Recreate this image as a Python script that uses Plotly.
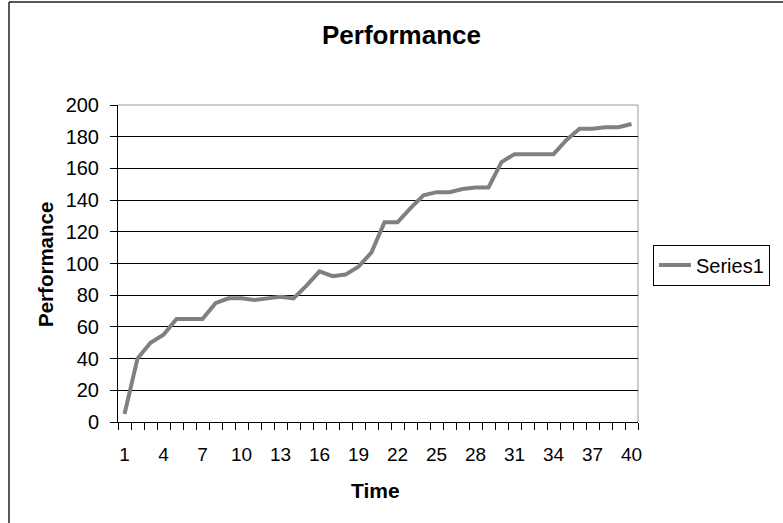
import plotly.graph_objects as go

time_points = list(range(1, 41))
performance = [5, 40, 50, 55, 65, 65, 65, 75, 78, 78,
               77, 78, 79, 78, 86, 95, 92, 93, 98, 107,
               126, 126, 135, 143, 145, 145, 147, 148, 148, 164,
               169, 169, 169, 169, 178, 185, 185, 186, 186, 188]
x_tick_labels = [1, 4, 7, 10, 13, 16, 19, 22, 25, 28, 31, 34, 37, 40]
y_ticks = list(range(0, 201, 20))

W, H = 783, 523
L, R, T, B = 118, 638, 105, 422
pw, ph = R - L, B - T

def px(x):
    return (x - L) / pw

def py(y):
    return (B - y) / ph

FONT = "Liberation Sans, Arial, sans-serif"

fig = go.Figure()
fig.add_trace(go.Scatter(
    x=time_points, y=performance, mode="lines", name="Series1",
    line=dict(color="#808080", width=4),
))

boundaries = [t - 0.5 for t in time_points] + [time_points[-1] + 0.5]

fig.update_layout(
    width=W, height=H,
    margin=dict(l=L, r=W - R, t=T, b=H - B, pad=0, autoexpand=False),
    paper_bgcolor="white", plot_bgcolor="white",
    font=dict(family=FONT, size=19, color="black"),
    showlegend=True,
    legend=dict(x=px(653), xanchor="left", y=py(265), yanchor="middle",
                bordercolor="black", borderwidth=1, bgcolor="white",
                font=dict(size=20, family=FONT),
                itemwidth=32, tracegroupgap=0),
    xaxis=dict(range=[0.5, 40.5], tickmode="array", tickvals=x_tick_labels,
               ticktext=[str(v) for v in x_tick_labels],
               ticks="", showgrid=False, zeroline=False,
               showline=True, linecolor="black", linewidth=1,
               ticklabelstandoff=15, tickfont=dict(size=19),
               minor=dict(tickmode="array", tickvals=boundaries, ticks="outside",
                          ticklen=7, tickcolor="black", tickwidth=1, showgrid=False)),
    yaxis=dict(range=[0, 200], tickmode="array", tickvals=y_ticks,
               ticks="outside", ticklen=7, tickcolor="black", tickwidth=1,
               showgrid=True, gridcolor="black", gridwidth=1, zeroline=False,
               showline=True, linecolor="black", linewidth=1,
               ticklabelstandoff=7, tickfont=dict(size=20)),
    annotations=[
        dict(text="<b>Performance</b>", x=px(401), y=py(35), xref="paper", yref="paper",
             showarrow=False, font=dict(size=26, family=FONT), xanchor="center", yanchor="middle"),
        dict(text="<b>Time</b>", x=px(375), y=py(490), xref="paper", yref="paper",
             showarrow=False, font=dict(size=21, family=FONT), xanchor="center", yanchor="middle"),
        dict(text="<b>Performance</b>", x=px(45), y=py(265), xref="paper", yref="paper",
             showarrow=False, textangle=-90, font=dict(size=20.5, family=FONT),
             xanchor="center", yanchor="middle"),
    ],
    shapes=[
        # outer chart border (left and top visible)
        dict(type="line", xref="paper", yref="paper", x0=px(9), x1=px(9), y0=py(2), y1=py(530),
             line=dict(color="#222222", width=1.5)),
        dict(type="line", xref="paper", yref="paper", x0=px(9), x1=px(790), y0=py(2), y1=py(2),
             line=dict(color="#222222", width=1.5)),
        # plot area border top/right in gray
        dict(type="line", xref="paper", yref="paper", x0=0, x1=1, y0=1, y1=1,
             line=dict(color="#999999", width=1), layer="below"),
        dict(type="line", xref="paper", yref="paper", x0=1, x1=1, y0=0, y1=1,
             line=dict(color="#999999", width=1), layer="below"),
    ],
)

fig.write_html("out.html", config={"displayModeBar": False},
               post_script="document.body.style.margin='0';")
